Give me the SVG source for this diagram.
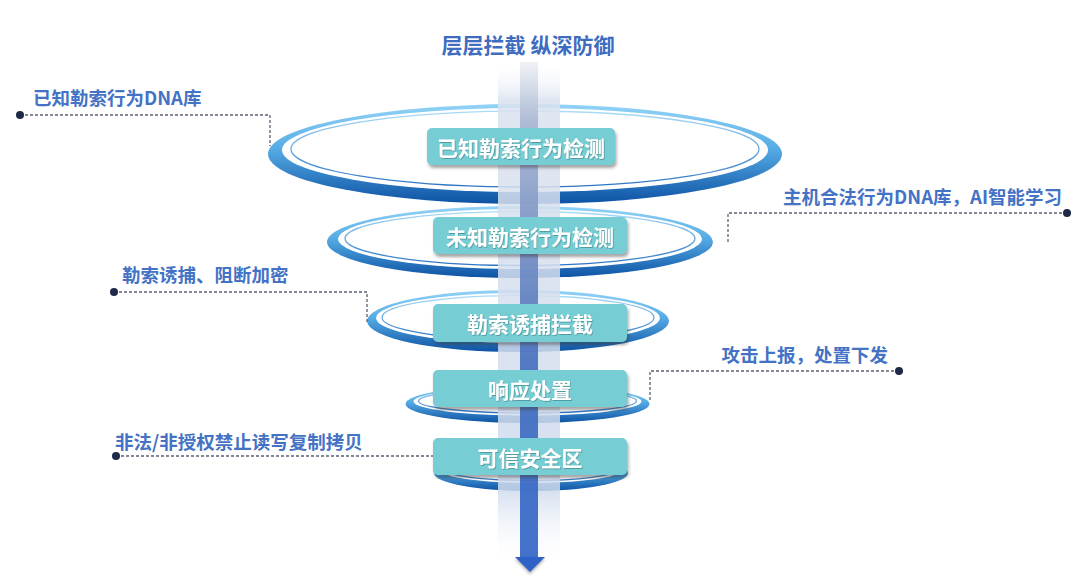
<svg xmlns="http://www.w3.org/2000/svg" width="1080" height="581" viewBox="0 0 1080 581">
<defs>
<linearGradient id="ringG" x1="0" y1="0" x2="0" y2="1">
<stop offset="0" stop-color="#93d3f6"/>
<stop offset="0.45" stop-color="#55abe4"/>
<stop offset="1" stop-color="#0d52a4"/>
</linearGradient>
<linearGradient id="lineG" x1="0" y1="0" x2="0" y2="1">
<stop offset="0" stop-color="#a9dcf7"/>
<stop offset="1" stop-color="#2c74c4"/>
</linearGradient>
<linearGradient id="bandG" x1="0" y1="0" x2="0" y2="1">
<stop offset="0" stop-color="#ffffff" stop-opacity="0"/>
<stop offset="0.08" stop-color="#dae2ef"/>
<stop offset="0.85" stop-color="#d0dbed"/>
<stop offset="1" stop-color="#ffffff" stop-opacity="0"/>
</linearGradient>
<linearGradient id="shaftG" x1="0" y1="0" x2="0" y2="1">
<stop offset="0" stop-color="#eef0f5"/>
<stop offset="0.12" stop-color="#aab7d3"/>
<stop offset="0.35" stop-color="#7890c2"/>
<stop offset="0.6" stop-color="#456fbd"/>
<stop offset="1" stop-color="#2d62c6"/>
</linearGradient>
<filter id="shadow" x="-10%" y="-20%" width="125%" height="160%">
<feDropShadow dx="1.5" dy="3" stdDeviation="1.8" flood-color="#3a3a3a" flood-opacity="0.45"/>
</filter>
<filter id="tshadow" x="-5%" y="-20%" width="110%" height="150%">
<feDropShadow dx="0.8" dy="1" stdDeviation="0.6" flood-color="#2a6a70" flood-opacity="0.5"/>
</filter>
<filter id="ashadow" x="-30%" y="-30%" width="160%" height="180%">
<feDropShadow dx="0" dy="2" stdDeviation="1.5" flood-color="#333" flood-opacity="0.4"/>
</filter>
</defs>
<style>
.outer{fill:url(#ringG)}
.inner{fill:#ffffff}
.thin{fill:none;stroke:url(#lineG);stroke-width:1.3}
.box{fill:#76cdd3;filter:url(#shadow)}
.btxt{font-family:"Noto Sans CJK SC","Noto Sans",sans-serif;font-weight:bold;font-size:21px;fill:#ffffff;text-anchor:middle;dominant-baseline:central;filter:url(#tshadow)}
.lbl{font-family:"Noto Sans CJK SC","Noto Sans",sans-serif;font-weight:bold;font-size:18.5px;fill:#4472c4}
.title{font-family:"Noto Sans CJK SC","Noto Sans",sans-serif;font-weight:bold;font-size:21px;fill:#3d6cc0;text-anchor:middle}
.conn{fill:none;stroke:#5a6074;stroke-width:1.3;stroke-dasharray:3 2}
.dot{fill:#1f2a48}
</style>
<rect width="1080" height="581" fill="#ffffff"/>

<text class="title" x="528" y="53">层层拦截 纵深防御</text>

<g id="rings">
<ellipse class="outer" cx="525" cy="154" rx="257" ry="50"/>
<ellipse class="inner" cx="525" cy="150" rx="243" ry="42"/>
<ellipse class="thin" cx="525" cy="149" rx="234" ry="38"/>

<ellipse class="outer" cx="520" cy="242" rx="193" ry="36"/>
<ellipse class="inner" cx="520" cy="239" rx="182" ry="30"/>
<ellipse class="thin" cx="520" cy="238.5" rx="175" ry="27"/>

<ellipse class="outer" cx="518" cy="321" rx="151" ry="31"/>
<ellipse class="inner" cx="518" cy="318" rx="142" ry="25"/>
<ellipse class="thin" cx="518" cy="317.5" rx="136" ry="22"/>

<ellipse class="outer" cx="527.5" cy="404" rx="122" ry="19"/>
<ellipse class="inner" cx="527.5" cy="401.5" rx="114" ry="14"/>
<ellipse class="thin" cx="527.5" cy="401" rx="109" ry="12"/>

<ellipse class="outer" cx="531" cy="473" rx="97" ry="18"/>
<ellipse class="inner" cx="531" cy="470" rx="90" ry="13"/>
<ellipse class="thin" cx="531" cy="469.5" rx="86" ry="11"/>
</g>

<g id="axis">
<rect x="498" y="60" width="62" height="507" fill="url(#bandG)" opacity="0.85"/>
<rect x="520" y="62" width="18" height="496" fill="url(#shaftG)" opacity="0.9"/>
<polygon points="515,557 545,557 530,572" fill="#2d62c6" filter="url(#ashadow)"/>
</g>

<g id="connectors">
<polyline class="conn" points="20,115 270,115 270,146"/>
<circle class="dot" cx="20" cy="115" r="4"/>
<polyline class="conn" points="1067,213 728,213 728,243"/>
<circle class="dot" cx="1067" cy="213" r="4"/>
<polyline class="conn" points="114,292 367,292 367,322"/>
<circle class="dot" cx="114" cy="292" r="4"/>
<polyline class="conn" points="899,371 650,371 650,401"/>
<circle class="dot" cx="899" cy="371" r="4"/>
<polyline class="conn" points="116,456 433,456"/>
<circle class="dot" cx="116" cy="456" r="4"/>
</g>

<g id="node-known">
<rect class="box" x="427" y="128" width="188" height="37" rx="5"/>
<text class="btxt" x="521" y="146.5">已知勒索行为检测</text>
</g>
<g id="node-unknown">
<rect class="box" x="433" y="217" width="194" height="37" rx="5"/>
<text class="btxt" x="530" y="235.5">未知勒索行为检测</text>
</g>
<g id="node-trap">
<rect class="box" x="433" y="304" width="194" height="38" rx="5"/>
<text class="btxt" x="530" y="323">勒索诱捕拦截</text>
</g>
<g id="node-response">
<rect class="box" x="433" y="370" width="194" height="37" rx="5"/>
<text class="btxt" x="530" y="388.5">响应处置</text>
</g>
<g id="node-trusted">
<rect class="box" x="433" y="438" width="194" height="37" rx="5"/>
<text class="btxt" x="530" y="456.5">可信安全区</text>
</g>

<g id="labels">
<text class="lbl" x="33" y="105">已知勒索行为DNA库</text>
<text class="lbl" x="1062" y="204" text-anchor="end">主机合法行为DNA库，AI智能学习</text>
<text class="lbl" x="122" y="282">勒索诱捕、阻断加密</text>
<text class="lbl" x="888" y="362" text-anchor="end">攻击上报，处置下发</text>
<text class="lbl" x="115" y="449">非法/非授权禁止读写复制拷贝</text>
</g>
</svg>
